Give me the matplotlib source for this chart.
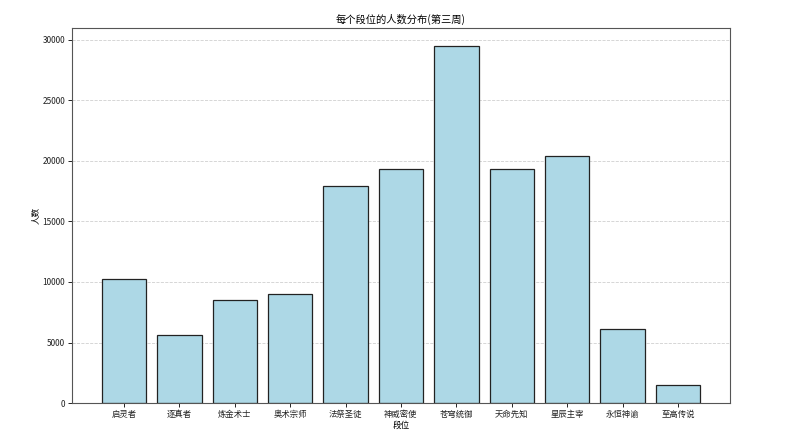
import numpy as np
import matplotlib
matplotlib.use("Agg")
import matplotlib.pyplot as plt

plt.rcParams['font.family'] = ['Noto Sans CJK SC', 'DejaVu Sans']
plt.rcParams['axes.unicode_minus'] = False

# 段位与人数（第三周）
ranks = ['启灵者', '逐真者', '炼金术士', '奥术宗师', '法祭圣徒', '神威密使',
         '苍穹统御', '天命先知', '星辰主宰', '永恒神谕', '至高传说']
counts = [10250, 5650, 8540, 9030, 17930, 19340, 29500, 19360, 20410, 6110, 1500]

fig = plt.figure(figsize=(8, 4.32), dpi=100)
ax = fig.add_axes([0.09, 0.067, 0.8225, 0.868])

ax.bar(ranks, counts, color='lightblue', edgecolor='#222222', linewidth=0.9, width=0.8)

ax.set_title('每个段位的人数分布(第三周)', fontsize=7.4, pad=4)
ax.set_xlabel('段位', fontsize=6.2, labelpad=1)
ax.set_ylabel('人数', fontsize=6.2, labelpad=2)
ax.tick_params(axis='both', labelsize=6, length=3, width=0.6, pad=2, labelcolor='#222222')
ax.grid(axis='y', linestyle='--', alpha=0.6, linewidth=0.6)
ax.set_axisbelow(True)
for s in ax.spines.values():
    s.set_linewidth(0.8)
    s.set_color('#555555')

fig.savefig('out.png', dpi=100)
